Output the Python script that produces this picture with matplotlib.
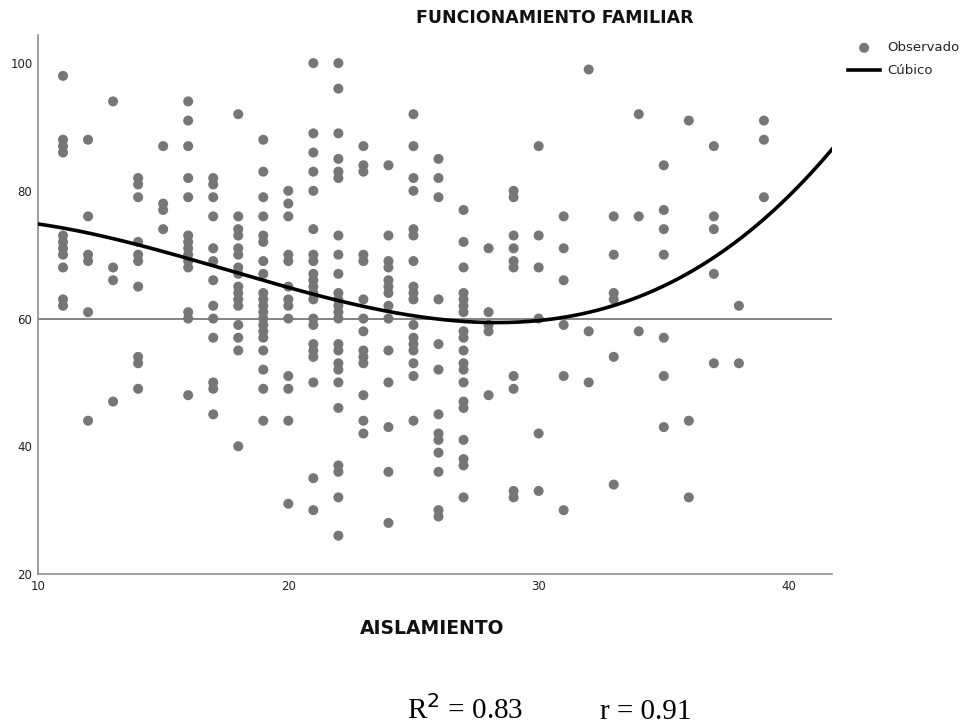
import numpy as np
import matplotlib
matplotlib.use("Agg")
import matplotlib.pyplot as plt

aisl = [11, 12, 13, 14, 15, 16, 17, 18, 19, 20, 21, 22, 23, 24, 25, 26, 27, 28, 29, 30,
        31, 32, 33, 34, 35, 36, 37, 38, 39]
func = [
    [98, 88, 87, 86, 73, 72, 71, 70, 68, 63, 62],
    [88, 76, 70, 69, 61, 44],
    [94, 68, 66, 47],
    [82, 81, 79, 72, 70, 69, 65, 54, 53, 49],
    [87, 78, 77, 74],
    [94, 91, 87, 82, 79, 73, 72, 71, 70, 69, 68, 61, 60, 48],
    [82, 81, 79, 76, 71, 69, 66, 62, 60, 57, 50, 49, 45],
    [92, 76, 74, 73, 71, 70, 68, 67, 65, 64, 63, 62, 59, 57, 55, 40],
    [88, 83, 79, 76, 73, 72, 69, 67, 64, 63, 62, 61, 60, 59, 58, 57, 55, 52, 49, 44],
    [80, 78, 76, 70, 69, 65, 63, 62, 60, 51, 49, 44, 31],
    [100, 89, 86, 83, 80, 74, 70, 69, 67, 66, 65, 64, 63, 60, 59, 56, 55, 54, 50, 35, 30],
    [100, 96, 89, 85, 83, 82, 73, 70, 67, 64, 63, 62, 61, 60, 56, 55, 53, 52, 50, 46, 37, 36, 32, 26],
    [87, 84, 83, 70, 69, 63, 60, 58, 55, 54, 53, 48, 44, 42],
    [84, 73, 69, 68, 66, 65, 64, 62, 60, 55, 50, 43, 36, 28],
    [92, 87, 82, 80, 74, 73, 69, 65, 64, 63, 59, 57, 56, 55, 53, 51, 44],
    [85, 82, 79, 63, 56, 52, 45, 42, 41, 39, 36, 30, 29],
    [77, 72, 68, 64, 63, 62, 61, 58, 57, 55, 53, 52, 50, 47, 46, 41, 38, 37, 32],
    [71, 61, 59, 58, 48],
    [80, 79, 73, 71, 69, 68, 51, 49, 33, 32],
    [87, 73, 68, 60, 42, 33],
    [76, 71, 66, 59, 51, 30],
    [99, 58, 50],
    [76, 70, 64, 63, 54, 34],
    [92, 76, 58],
    [84, 77, 74, 70, 57, 51, 43],
    [91, 44, 32],
    [87, 76, 74, 67, 53],
    [62, 53],
    [91, 88, 79],
]

# cubic fit line, sampled off the chart
curve_x = [10, 15, 20, 25, 28, 30, 32.45, 36.45, 39.1, 41.72]
curve_y = [74.6, 71.0, 64.7, 60.3, 59.1, 59.8, 61.3, 68.8, 75.7, 86.4]

xs = np.concatenate([[a] * len(v) for a, v in zip(aisl, func)])
ys = np.concatenate(func)

coef = np.polyfit(curve_x, curve_y, 3)
xfit = np.linspace(10, 41.72, 300)
yfit = np.polyval(coef, xfit)

fig = plt.figure(figsize=(9.71, 7.27), dpi=100)
ax = fig.add_axes([38 / 971, 1 - 574 / 727, (832 - 38) / 971, (574 - 35) / 727])

ax.axhline(60, color="#6e6e6e", lw=1.2, zorder=1)
ax.scatter(xs, ys, s=52, color="#767676", edgecolors="none", zorder=2, label="Observado")
ax.plot(xfit, yfit, color="black", lw=2.6, zorder=3, label="Cúbico")

ax.set_xlim(10, 41.72)
ax.set_ylim(20, 104.4)
ax.set_xticks([10, 20, 30, 40])
ax.set_yticks([20, 40, 60, 80, 100])
for s in ["top", "right"]:
    ax.spines[s].set_visible(False)
for s in ["left", "bottom"]:
    ax.spines[s].set_color("#8c8c8c")
    ax.spines[s].set_linewidth(1.2)
ax.tick_params(length=0, labelsize=8.5, labelcolor="#222222", pad=4)

fig.text(555 / 971, 1 - 18 / 727, "FUNCIONAMIENTO FAMILIAR", ha="center", va="center",
         fontsize=12.5, fontweight="bold", family="DejaVu Sans", color="#111111")
fig.text(432 / 971, 1 - 628 / 727, "AISLAMIENTO", ha="center", va="center",
         fontsize=13.5, fontweight="bold", family="DejaVu Sans", color="#111111")

leg = ax.legend(loc="upper left", bbox_to_anchor=(843 / 971, 1 - 36 / 727),
                bbox_transform=fig.transFigure, frameon=False,
                prop={"family": "DejaVu Sans", "size": 9.5},
                handlelength=2.4, handletextpad=0.55, labelspacing=0.75, borderaxespad=0)
for t in leg.get_texts():
    t.set_color("#222222")

fig.text(407 / 971, 1 - 719 / 727, "R$^2$ = 0.83", ha="left", va="baseline",
         fontsize=21, family="Liberation Serif")
fig.text(600 / 971, 1 - 719 / 727, "r = 0.91", ha="left", va="baseline",
         fontsize=21, family="Liberation Serif")

fig.savefig("out.png", dpi=100)
